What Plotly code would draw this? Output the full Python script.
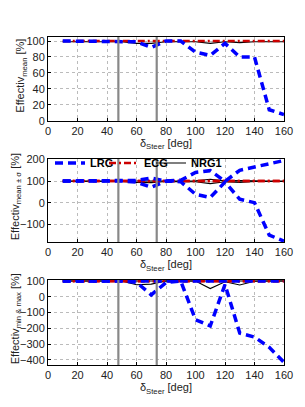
import plotly.graph_objects as go

steer = [10, 20, 30, 40, 50, 60, 70, 80, 90, 100, 110, 120, 130, 140, 150, 160]

# mean
lrg_mean = [100, 100, 100, 100, 100, 99, 92, 100, 100, 86, 82, 97, 80, 80, 14, 8]
ecg_mean = [100, 100, 100, 100, 100, 100, 100, 100, 100, 100, 100, 100, 100, 100, 100, 100]
nrg_mean = [99, 99, 99, 99, 99, 97, 97, 99, 99, 99, 97, 99, 98, 99, 99, 99]

# mean +/- sigma
lrg_up = [100, 100, 100, 100, 100, 103, 114, 100, 104, 140, 148, 99, 150, 165, 180, 195]
lrg_lo = [100, 100, 100, 100, 100, 95, 71, 100, 97, 39, 24, 95, 16, 0, -150, -178]
ecg_up = [100, 100, 100, 100, 100, 100, 101, 100, 100, 100, 101, 100, 101, 100, 100, 100]
ecg_lo = [100, 100, 100, 100, 100, 99, 98, 100, 100, 99, 98, 99, 98, 100, 100, 100]
nrg_up = [100, 100, 100, 100, 100, 100, 101, 100, 100, 101, 108, 101, 102, 100, 100, 100]
nrg_lo = [99, 99, 99, 99, 98, 94, 93, 98, 98, 97, 88, 97, 94, 98, 98, 98]

# min & max
lrg_min = [100, 100, 100, 100, 100, 92, 12, 90, 100, -145, -185, 78, -230, -255, -320, -415]
lrg_max = [100, 100, 100, 100, 100, 100, 100, 100, 100, 100, 100, 100, 100, 100, 100, 100]
ecg_min = [99, 99, 99, 99, 99, 98, 97, 99, 99, 98, 97, 98, 97, 99, 99, 99]
ecg_max = [100, 100, 100, 100, 100, 100, 100, 100, 100, 100, 100, 100, 100, 100, 100, 100]
nrg_min = [100, 100, 100, 100, 100, 76, 80, 100, 100, 100, 52, 95, 75, 98, 100, 100]
nrg_max = [100, 100, 100, 100, 100, 100, 100, 100, 100, 100, 100, 100, 100, 100, 100, 100]

steer_limits = [47.7, 73.7]

x_ticks = [0, 20, 40, 60, 80, 100, 120, 140, 160]
y1_ticks = [0, 20, 40, 60, 80, 100]
y2_ticks = [-100, 0, 100, 200]
y3_ticks = [-400, -300, -200, -100, 0, 100]

y_titles = ["Effectiv<sub>mean</sub> [%]",
            "Effectiv<sub>mean ± σ</sub> [%]",
            "Effectiv<sub>min & max</sub> [%]"]
x_title = "δ<sub>Steer</sub> [deg]"

BLUE = "#0000ff"
RED = "#cc0000"
BLACK = "#000000"

styles = {
    "LRG": dict(color=BLUE, width=3.5, dash="8px,5px"),
    "ECG": dict(color=RED, width=2.5, dash="7px,3px,2px,3px"),
    "NRG1": dict(color=BLACK, width=1.1, dash="solid"),
}
legend_of = {"LRG": "legend", "ECG": "legend2", "NRG1": "legend3"}

fig = go.Figure()

def add(ys, name, xa, ya, show):
    fig.add_trace(go.Scatter(x=steer, y=ys, mode="lines", name=name,
                             line=styles[name], xaxis=xa, yaxis=ya,
                             showlegend=show, legendgroup=name, legend=legend_of[name]))

# top
add(nrg_mean, "NRG1", "x", "y", False)
add(ecg_mean, "ECG", "x", "y", False)
add(lrg_mean, "LRG", "x", "y", False)
# middle
add(nrg_up, "NRG1", "x2", "y2", True)
add(nrg_lo, "NRG1", "x2", "y2", False)
add(ecg_up, "ECG", "x2", "y2", True)
add(ecg_lo, "ECG", "x2", "y2", False)
add(lrg_up, "LRG", "x2", "y2", True)
add(lrg_lo, "LRG", "x2", "y2", False)
# bottom
add(nrg_min, "NRG1", "x3", "y3", False)
add(nrg_max, "NRG1", "x3", "y3", False)
add(ecg_min, "ECG", "x3", "y3", False)
add(ecg_max, "ECG", "x3", "y3", False)
add(lrg_min, "LRG", "x3", "y3", False)
add(lrg_max, "LRG", "x3", "y3", False)

FAM = "Liberation Sans, Arial, sans-serif"
font = dict(family=FAM, size=11, color="#222")
tickfont = dict(family=FAM, size=11, color="#222")

def xax(anchor):
    return dict(range=[0, 160], tickvals=x_ticks, anchor=anchor, showline=True,
                linecolor="black", linewidth=1, mirror=True, ticks="inside",
                ticklen=3, tickcolor="black", showgrid=True, gridcolor="#bbbbbb",
                griddash="dot", gridwidth=1, zeroline=False, tickfont=tickfont,
                title=dict(text=x_title, font=font, standoff=2),
                domain=[0, 1])

def yax(anchor, rng, ticks, dom):
    return dict(range=rng, tickvals=ticks, anchor=anchor, showline=True,
                linecolor="black", linewidth=1, mirror=True, ticks="inside",
                ticklen=3, tickcolor="black", showgrid=True, gridcolor="#bbbbbb",
                griddash="dot", gridwidth=1, zeroline=False, tickfont=tickfont,
                domain=dom)

doms = [[0.744, 1], [0.375, 0.628], [0, 0.259]]

def leg(px):
    return dict(orientation="h", x=(px - 40) / 236, y=0.616, xanchor="left", yanchor="middle",
                bgcolor="rgba(0,0,0,0)", font=dict(family=FAM, size=11, color="black",
                weight="bold"), itemwidth=30)

fig.update_layout(
    width=305, height=407,
    margin=dict(l=40, r=29, t=29, b=50),
    paper_bgcolor="white", plot_bgcolor="white",
    font=font,
    xaxis=xax("y"), yaxis=yax("x", [0, 105], y1_ticks, doms[0]),
    xaxis2=xax("y2"), yaxis2=yax("x2", [-182, 202], y2_ticks, doms[1]),
    xaxis3=xax("y3"), yaxis3=yax("x3", [-432, 106], y3_ticks, doms[2]),
    legend=leg(42), legend2=leg(96), legend3=leg(143),
    showlegend=True,
)

shifts = [-27, -32, -32]
for title, dom, sh in zip(y_titles, doms, shifts):
    fig.add_annotation(text=title, textangle=-90, xref="paper", yref="paper",
                       x=0, y=(dom[0] + dom[1]) / 2 + 0.01, xanchor="center", yanchor="middle",
                       xshift=sh, showarrow=False, font=dict(family=FAM, size=11, color="#222"))

for ya, xa in [("y", "x"), ("y2", "x2"), ("y3", "x3")]:
    for xv in steer_limits:
        fig.add_shape(type="line", xref=xa, yref=f"{ya} domain", x0=xv, x1=xv, y0=0, y1=1,
                      line=dict(color="#888888", width=2.2), layer="above")

fig.write_html("out.html")
